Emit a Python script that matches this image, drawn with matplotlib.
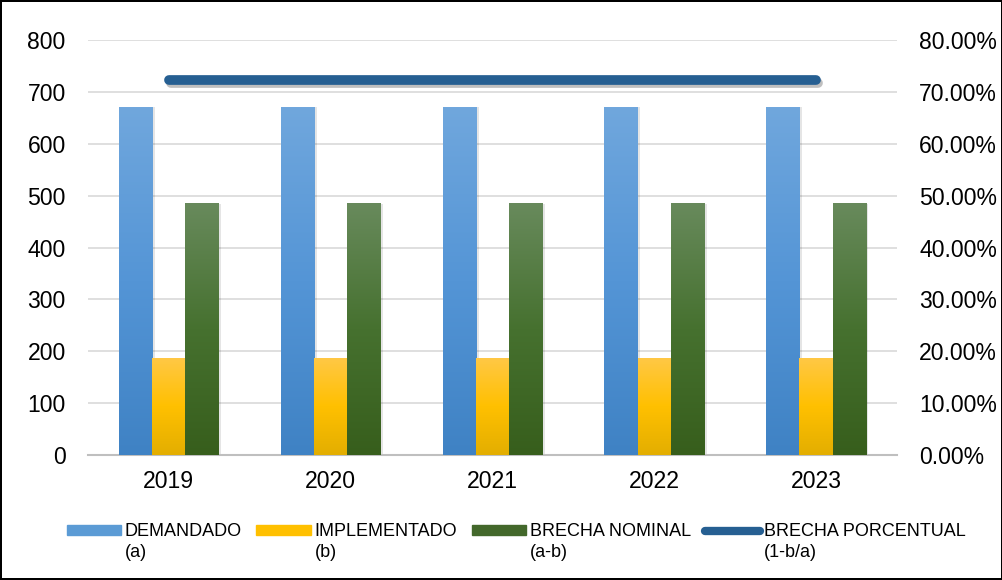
import matplotlib
matplotlib.use("Agg")
import matplotlib.pyplot as plt
import matplotlib.ticker as ticker
import matplotlib.patheffects as pe
from matplotlib.colors import LinearSegmentedColormap
import numpy as np

plt.rcParams['font.family'] = ['Liberation Sans', 'DejaVu Sans']

years = ["2019", "2020", "2021", "2022", "2023"]
demandado = [670, 670, 670, 670, 670]
implementado = [186, 186, 186, 186, 186]
brecha_nominal = [484, 484, 484, 484, 484]
brecha_porcentual = [0.7224, 0.7224, 0.7224, 0.7224, 0.7224]

series_labels = ["DEMANDADO", "IMPLEMENTADO", "BRECHA NOMINAL", "BRECHA PORCENTUAL"]
series_notes = ["(a)", "(b)", "(a-b)", "(1-b/a)"]

# gradient (top colour, mid colour, bottom colour) per bar series
gradients = [
    ("#70A7DD", "#5495D6", "#3F82C4"),
    ("#FFC845", "#FFC000", "#E3AE00"),
    ("#688A5C", "#46712F", "#375E1C"),
]
flat_colors = ["#5B9BD5", "#FFC000", "#43682B"]
line_color = "#265F92"

fig = plt.figure(figsize=(10.03, 5.8), dpi=100, linewidth=1.5, edgecolor="black")
ax = fig.add_axes([0.0877, 0.2155, 0.8065, 0.7155])
ax2 = ax.twinx()

x = np.arange(len(years))
width = 0.205
offsets = [-width, 0, width]

for k, values in enumerate([demandado, implementado, brecha_nominal]):
    cmap = LinearSegmentedColormap.from_list("g%d" % k, list(gradients[k][::-1]))
    bars = ax.bar(x + offsets[k], values, width, color="none", edgecolor="none",
                  linewidth=0, zorder=3)
    for b in bars:
        x0, h = b.get_x(), b.get_height()
        # soft shadow
        ax.bar(x0 + b.get_width() / 2 + 0.012, h, b.get_width() + 0.01,
               color="black", alpha=0.10, zorder=2, linewidth=0)
        grad = np.linspace(0, 1, 256).reshape(-1, 1)
        ax.imshow(grad, extent=[x0, x0 + b.get_width(), 0, h], origin="lower",
                  aspect="auto", cmap=cmap, zorder=3 + k * 0.01)

ax.set_xlim(-0.5, len(years) - 0.5)
ax.set_ylim(0, 800)
ax.set_yticks(np.arange(0, 801, 100))
ax.set_xticks(x)
ax.set_xticklabels(years)
ax.yaxis.grid(True, color="#D9D9D9", linewidth=1.2, zorder=0)
ax.set_axisbelow(True)
for s in ["top", "right", "left"]:
    ax.spines[s].set_visible(False)
ax.spines["bottom"].set_color("#BFBFBF")
ax.spines["bottom"].set_linewidth(1.5)
ax.tick_params(axis="both", length=0, labelsize=16.6, colors="black")
ax.tick_params(axis="x", pad=11)
ax.tick_params(axis="y", pad=16)

ax2.plot(x, brecha_porcentual, color=line_color, linewidth=7,
         solid_capstyle="round", zorder=5,
         path_effects=[pe.SimpleLineShadow(offset=(1.5, -2), alpha=0.25, shadow_color="black"),
                       pe.Normal()])
ax2.set_ylim(0, 0.8)
ax2.set_yticks(np.arange(0, 0.81, 0.1))
ax2.yaxis.set_major_formatter(ticker.FuncFormatter(lambda v, p: "{:.2f}%".format(v * 100)))
for s in ["top", "right", "left", "bottom"]:
    ax2.spines[s].set_visible(False)
ax2.tick_params(axis="y", length=0, labelsize=16.6, pad=16)
ax.set_zorder(ax2.get_zorder() - 1)
ax2.patch.set_visible(False)
ax.patch.set_visible(False)

# legend
handles = [plt.Rectangle((0, 0), 1, 1, color=c) for c in flat_colors]
handles.append(plt.Line2D([0], [0], color=line_color, linewidth=6, solid_capstyle="round"))
leg = fig.legend(handles, series_labels, loc="center", bbox_to_anchor=(0.5145, 0.083),
                 ncol=4, frameon=False, fontsize=13, handlelength=3.0, handleheight=0.45,
                 handletextpad=0.22, columnspacing=0.8)
fig.canvas.draw()
inv = fig.transFigure.inverted()
for t, note in zip(leg.get_texts(), series_notes):
    bb = t.get_window_extent()
    x0, y0 = inv.transform((bb.x0, bb.y0))
    fig.text(x0, y0 - 0.006, note, fontsize=13, ha="left", va="top")

fig.savefig("out.png", dpi=100)
